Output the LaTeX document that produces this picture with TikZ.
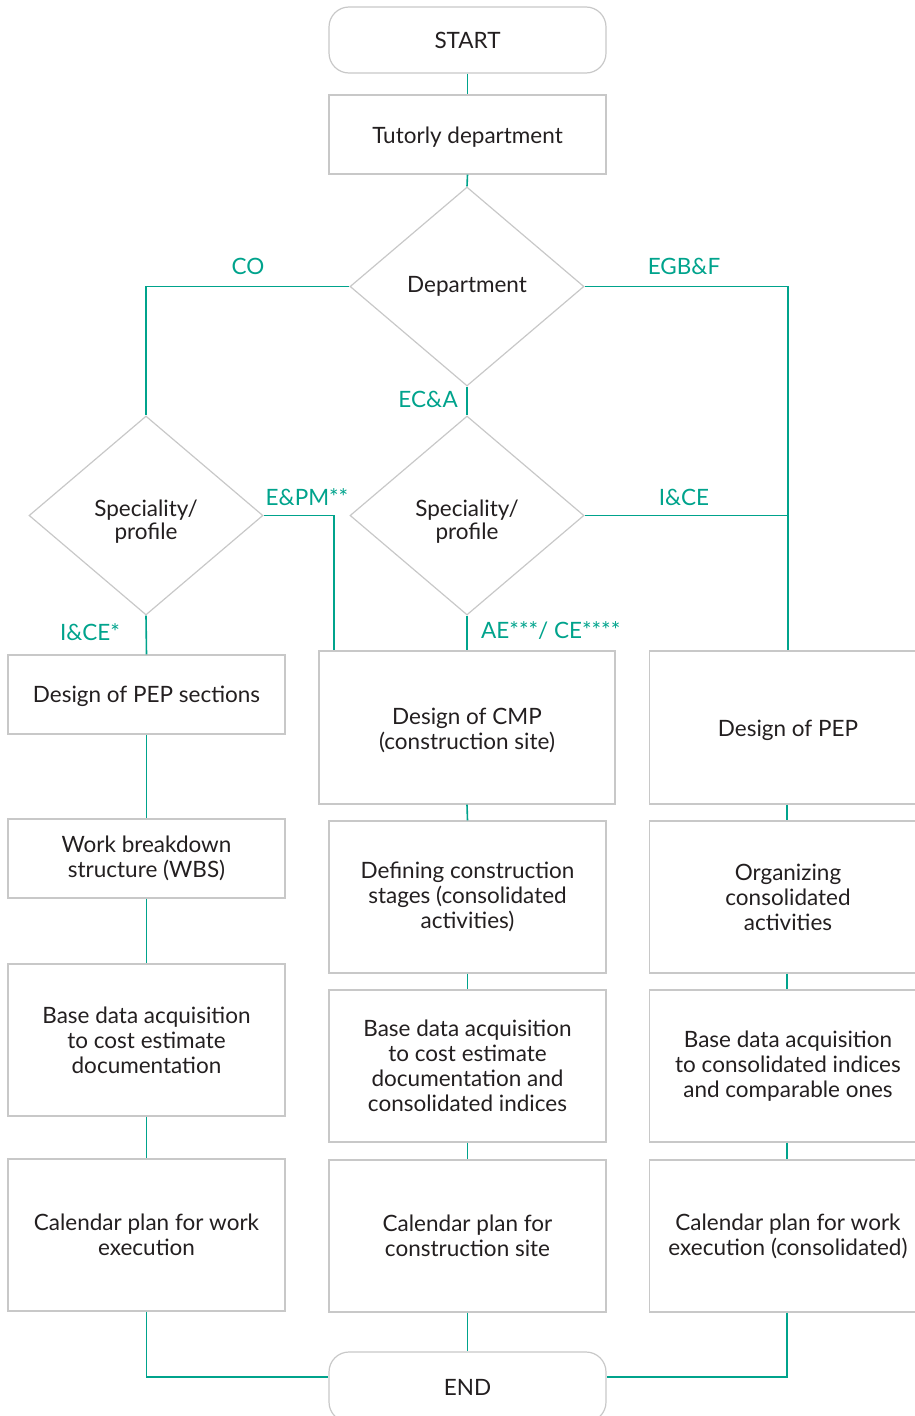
\documentclass[tikz,border=0pt]{standalone}
\usepackage{fontspec}
\setmainfont{Lato}
\usetikzlibrary{shapes.geometric}
\definecolor{teal1}{RGB}{0,163,140}
\definecolor{boxgray}{RGB}{200,200,200}
\definecolor{txt}{RGB}{35,31,32}
\newcommand{\dn}[2]{\raisebox{-#1}[\height][\depth]{#2}}
\tikzset{
  x=1pt,y=-1pt,
  base/.style={draw=boxgray,line width=1.2pt,text=txt,font=\fontsize{22.5}{25}\selectfont,align=center,inner sep=0pt},
  boxn/.style={base,rectangle,minimum width=277pt},
  term/.style={base,rectangle,rounded corners=20pt,minimum width=277pt},
  dec/.style={base,diamond,minimum width=234pt,minimum height=199pt},
  conn/.style={draw=teal1,line width=1.6pt},
  lab/.style={text=teal1,font=\fontsize{22.5}{24}\selectfont,inner sep=0pt}
}
\begin{document}
\begin{tikzpicture}
\useasboundingbox (0,0) rectangle (915,1416);
\clip (0,0) rectangle (915,1416);
% nodes
\node[term,minimum height=66pt] (start) at (467.5,40) {START};
\node[boxn,minimum height=79pt] (tut) at (467.5,134.5) {\dn{3pt}{Tutorly department}};
\node[dec] (dep) at (467,286.5) {Department};
\node[dec] (sp1) at (146,515.5) {\dn{6pt}{\shortstack{Speciality/\\[-1pt]profile}}};
\node[dec] (sp2) at (467,515.5) {\dn{6pt}{\shortstack{Speciality/\\[-1pt]profile}}};
% left column
\node[boxn,minimum height=79pt] (l1) at (146.5,694.5) {\dn{2pt}{Design of PEP sections}};
\node[boxn,minimum height=79pt] (l2) at (146.5,858.5) {Work breakdown\\structure (WBS)};
\node[boxn,minimum height=152pt] (l3) at (146.5,1040) {Base data acquisition\\to cost estimate\\documentation};
\node[boxn,minimum height=152pt] (l4) at (146.5,1235) {Calendar plan for work\\execution};
% center column
\node[boxn,minimum width=296pt,minimum height=153pt] (c1) at (467,727.5) {\dn{3pt}{\shortstack{Design of CMP\\(construction site)}}};
\node[boxn,minimum height=152pt] (c2) at (467.5,897) {Defining construction\\stages (consolidated\\activities)};
\node[boxn,minimum height=152pt] (c3) at (467.5,1066) {Base data acquisition\\to cost estimate\\documentation and\\consolidated indices};
\node[boxn,minimum height=152pt] (c4) at (467.5,1236) {Calendar plan for\\construction site};
% right column
\node[boxn,minimum height=153pt] (r1) at (788,727.5) {\dn{3pt}{Design of PEP}};
\node[boxn,minimum height=152pt] (r2) at (788,897) {Organizing\\consolidated\\activities};
\node[boxn,minimum height=152pt] (r3) at (788,1066) {Base data acquisition\\to consolidated indices\\and comparable ones};
\node[boxn,minimum height=152pt] (r4) at (788,1236) {Calendar plan for work\\execution (consolidated)};
% end
\node[term,minimum height=70pt] (end) at (467.5,1387) {END};
% connectors
\draw[conn] (start.south) -- (tut.north);
\draw[conn] (tut.south) -- (dep.north);
\draw[conn] (dep.west) -| (sp1.north);
\draw[conn] (dep.east) -| (r1.north);
\draw[conn] (dep.south) -- (sp2.north);
\draw[conn] (sp1.east) -| (334,0 |- c1.north);
\draw[conn] (sp2.east) -- (787,0 |- sp2.east);
\draw[conn] (sp1.south) -- (l1.north);
\draw[conn] (sp2.south) -- (c1.north);
\draw[conn] (l1.south) -- (l2.north);
\draw[conn] (l2.south) -- (l3.north);
\draw[conn] (l3.south) -- (l4.north);
\draw[conn] (c1.south) -- (c2.north);
\draw[conn] (c2.south) -- (c3.north);
\draw[conn] (c3.south) -- (c4.north);
\draw[conn] (r1.south -| 787,0) -- (787,0 |- r2.north);
\draw[conn] (r2.south -| 787,0) -- (787,0 |- r3.north);
\draw[conn] (r3.south -| 787,0) -- (787,0 |- r4.north);
\draw[conn] (c4.south) -- (end.north);
\coordinate (endl) at (end.west |- 0,1377);
\coordinate (endr) at (end.east |- 0,1377);
\draw[conn] (l4.south) |- (endl);
\draw[conn] (r4.south -| 787,0) |- (endr);
% labels
\node[lab] (lco) at (248,266) {CO};
\node[lab] (legb) at (684,266) {EGB\&F};
\node[lab,anchor=east] (leca) at (458,399) {EC\&A};
\node[lab] (lepm) at (307,497) {E\&PM**};
\node[lab] (lice) at (684,497) {I\&CE};
\node[lab] (lice1) at (90,632) {I\&CE*};
\node[lab,anchor=west] (lae) at (481,631) {AE***/ CE****};
\end{tikzpicture}
\end{document}
